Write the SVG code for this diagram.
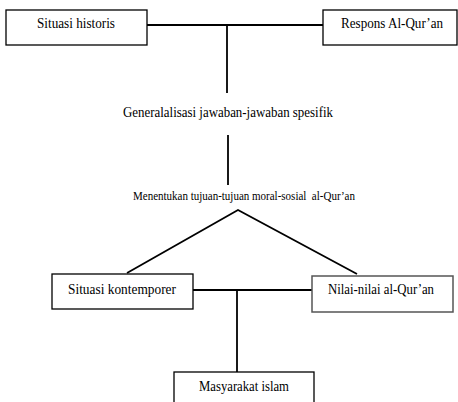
<svg xmlns="http://www.w3.org/2000/svg" width="458" height="402" viewBox="0 0 458 402">
<style>
.box{fill:#fff;stroke:#000;stroke-width:1.3}
.gbox{fill:#fff;stroke:#555;stroke-width:1.5}
text{font-family:'Liberation Serif','Times New Roman',serif;font-size:15px;fill:#000;text-anchor:middle}
.s{font-size:13px;white-space:pre}
.ln{stroke:#000;stroke-width:1.8;fill:none}
</style>
<rect width="458" height="402" fill="#fff"/>
<g id="connectors">
<line class="ln" x1="147" y1="25" x2="323" y2="25" style="stroke-width:2.2"/>
<line class="ln" x1="227" y1="25" x2="227" y2="93"/>
<line class="ln" x1="228" y1="135" x2="228" y2="185"/>
<polyline class="ln" points="127,273 238,210 357,274"/>
<line class="ln" x1="193" y1="290" x2="312" y2="290"/>
<line class="ln" x1="237" y1="290" x2="237" y2="372"/>
</g>
<g id="situasi-historis">
<rect class="box" x="6" y="10" width="141" height="35"/>
<text x="76" y="28" textLength="78" lengthAdjust="spacingAndGlyphs">Situasi historis</text>
</g>
<g id="respons">
<rect class="box" x="323" y="10" width="134" height="35"/>
<text x="392" y="28" textLength="102" lengthAdjust="spacingAndGlyphs">Respons Al-Qur’an</text>
</g>
<g id="generalisasi">
<text x="228" y="117" textLength="210" lengthAdjust="spacingAndGlyphs">Generalalisasi jawaban-jawaban spesifik</text>
</g>
<g id="menentukan">
<text class="s" x="244" y="200" textLength="222" lengthAdjust="spacingAndGlyphs">Menentukan tujuan-tujuan moral-sosial  al-Qur’an</text>
</g>
<g id="situasi-kontemporer">
<rect class="box" x="52" y="274" width="141" height="35"/>
<text x="122" y="294" textLength="108" lengthAdjust="spacingAndGlyphs">Situasi kontemporer</text>
</g>
<g id="nilai">
<rect class="gbox" x="312" y="276" width="141" height="36"/>
<text x="381" y="294" textLength="106" lengthAdjust="spacingAndGlyphs">Nilai-nilai al-Qur’an</text>
</g>
<g id="masyarakat">
<rect class="box" x="174" y="372" width="140" height="40"/>
<text x="244" y="391" textLength="90" lengthAdjust="spacingAndGlyphs">Masyarakat islam</text>
</g>
</svg>
